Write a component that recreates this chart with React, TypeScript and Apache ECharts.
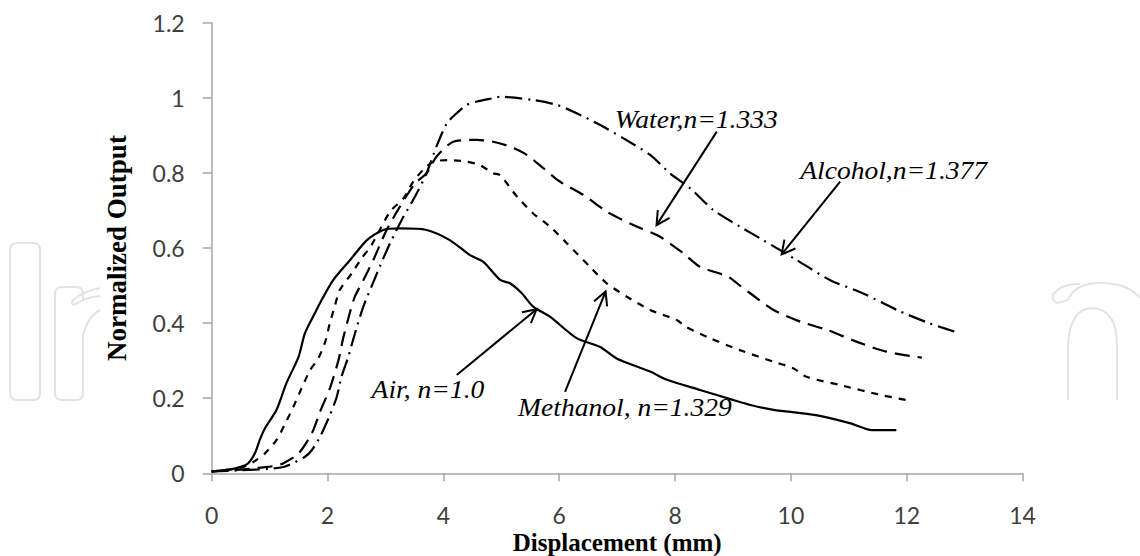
import React, { useEffect, useRef } from "react";
import * as echarts from "echarts";

// ---- Data ----
const xMin = 0;
const xMax = 14;
const xInterval = 2;
const yMin = 0;
const yMax = 1.2;
const yInterval = 0.2;

const air: [number, number][] = [
  [0, 0.005], [0.3, 0.01], [0.5, 0.017], [0.63, 0.027], [0.75, 0.055], [0.83, 0.089],
  [0.92, 0.12], [1.12, 0.169], [1.29, 0.24], [1.5, 0.31], [1.61, 0.373], [1.78, 0.426],
  [1.9, 0.462], [2.1, 0.515], [2.39, 0.568], [2.68, 0.621], [2.96, 0.648], [3.25, 0.652],
  [3.71, 0.648], [4.11, 0.621], [4.46, 0.581], [4.69, 0.563], [4.98, 0.515], [5.15, 0.506],
  [5.35, 0.48], [5.55, 0.444], [5.84, 0.417], [6.3, 0.36], [6.7, 0.337], [6.99, 0.306],
  [7.57, 0.271], [7.86, 0.249], [8.43, 0.222], [9.01, 0.195], [9.3, 0.182], [9.7, 0.169],
  [10.43, 0.155], [11.03, 0.133], [11.4, 0.115], [11.82, 0.115],
];

const methanol: [number, number][] = [
  [0, 0.005], [0.4, 0.012], [0.6, 0.02], [0.75, 0.033], [0.92, 0.053], [1.12, 0.089],
  [1.27, 0.133], [1.41, 0.177], [1.55, 0.226], [1.7, 0.275], [1.84, 0.306], [1.96, 0.35],
  [2.04, 0.4], [2.13, 0.448], [2.21, 0.488], [2.42, 0.533], [2.59, 0.573], [2.76, 0.608],
  [3.08, 0.697], [3.31, 0.732], [3.48, 0.777], [3.65, 0.808], [3.83, 0.83], [4.11, 0.834],
  [4.4, 0.83], [4.63, 0.821], [4.86, 0.799], [4.98, 0.794], [5.27, 0.737], [5.55, 0.692],
  [5.84, 0.657], [6.13, 0.613], [6.53, 0.55], [6.82, 0.506], [7.17, 0.47], [7.57, 0.435],
  [8.03, 0.408], [8.19, 0.39], [8.6, 0.36], [9.12, 0.328], [9.7, 0.297], [10.04, 0.28],
  [10.27, 0.257], [10.85, 0.235], [11.54, 0.209], [12.0, 0.195],
];

const water: [number, number][] = [
  [0, 0.005], [0.5, 0.01], [0.9, 0.016], [1.1, 0.02], [1.24, 0.027], [1.5, 0.053],
  [1.73, 0.107], [1.87, 0.164], [2.04, 0.226], [2.19, 0.302], [2.27, 0.36], [2.39, 0.43],
  [2.47, 0.47], [2.62, 0.515], [2.79, 0.568], [3.02, 0.648], [3.25, 0.71], [3.51, 0.772],
  [3.71, 0.799], [3.88, 0.843], [4.17, 0.883], [4.58, 0.888], [4.86, 0.883], [5.15, 0.87],
  [5.44, 0.848], [5.73, 0.812], [6.01, 0.777], [6.42, 0.741], [6.82, 0.697], [7.28, 0.661],
  [7.74, 0.63], [8.14, 0.586], [8.43, 0.55], [8.91, 0.524], [9.12, 0.5], [9.7, 0.435],
  [10.16, 0.404], [10.62, 0.382], [11.14, 0.35], [11.65, 0.324], [12.26, 0.308],
];

const alcohol: [number, number][] = [
  [0, 0.005], [0.5, 0.008], [1.0, 0.012], [1.27, 0.018], [1.61, 0.044], [1.73, 0.062],
  [1.87, 0.097], [2.04, 0.155], [2.16, 0.204], [2.24, 0.257], [2.36, 0.311], [2.44, 0.355],
  [2.56, 0.417], [2.65, 0.457], [2.78, 0.505], [2.9, 0.55], [3.08, 0.613], [3.31, 0.683],
  [3.51, 0.737], [3.71, 0.799], [3.88, 0.87], [4.06, 0.932], [4.23, 0.959], [4.4, 0.981],
  [4.58, 0.99], [4.86, 0.999], [4.98, 1.003], [5.55, 0.994], [5.96, 0.981], [6.3, 0.959],
  [6.7, 0.928], [7.11, 0.892], [7.57, 0.848], [7.91, 0.799], [8.26, 0.759], [8.66, 0.701],
  [9.12, 0.657], [9.52, 0.621], [10.1, 0.568], [10.67, 0.515], [11.25, 0.479], [11.83, 0.435],
  [12.4, 0.399], [12.92, 0.373],
];

// annotation labels (data coords of left/middle anchor) and arrows (from -> tip)
const labelTexts = ["Water,n=1.333", "Alcohol,n=1.377", "Air, n=1.0", "Methanol, n=1.329"];
const labelPos: [number, number][] = [[6.96, 0.944], [10.16, 0.808], [2.76, 0.2245], [5.29, 0.177]];
const arrowFrom: [number, number][] = [[8.72, 0.91], [10.85, 0.777], [4.23, 0.262], [6.1, 0.217]];
const arrowTo: [number, number][] = [[7.68, 0.661], [9.84, 0.583], [5.61, 0.437], [6.8, 0.484]];

// faint watermark outline (page decoration)
const wmPath =
  "M10,250 Q10,243 17,243 L33,243 Q40,243 40,250 L40,393 Q40,400 33,400 L17,400 Q10,400 10,393 Z " +
  "M83,335 L83,393 Q83,400 76,400 L62,400 Q55,400 55,393 L55,294 Q55,287 62,287 L76,287 Q83,287 83,294 L83,300 " +
  "M83,335 Q88,316 100,310 " +
  "M100,288 Q84,291 73,300 Q70,306 76,304 Q86,297 100,296 " +
  "M1068,400 L1068,345 Q1070,308 1093,308 Q1117,310 1117,345 L1117,400 " +
  "M1068,300 Q1075,283 1100,283 Q1128,283 1140,298 " +
  "M1068,300 L1057,303 Q1050,300 1054,293 L1062,287 Q1070,284 1080,284";

echarts.graphic.registerShape("wm", echarts.graphic.extendPath(wmPath, {}));

const axisColor = "#a6a6a6";
const tickFont = { fontFamily: "Lato", fontSize: 23, color: "#404040" };

export default function App() {
  const ref = useRef<HTMLDivElement>(null);

  useEffect(() => {
    if (!ref.current) return;
    const chart = echarts.init(ref.current, undefined, { renderer: "svg" });
    const seriesStyle = (type: any) => ({
      type: "line",
      showSymbol: false,
      symbol: "none",
      smooth: 0.25,
      lineStyle: { color: "#000", width: 2.2, type },
      z: 3,
    });
    chart.setOption({
      animation: false,
      backgroundColor: "#fff",
      grid: {
        left: 211.7,
        right: 117.4,
        top: 22.7,
        bottom: 82.7,
        containLabel: false,
        outerBoundsMode: "none",
      },
      xAxis: {
        type: "value",
        min: xMin,
        max: xMax,
        interval: xInterval,
        name: "Displacement (mm)",
        nameLocation: "middle",
        nameGap: 57,
        nameMoveOverlap: false,
        nameTextStyle: { fontFamily: "Liberation Serif", fontWeight: "bold", fontSize: 25, color: "#000" },
        axisLine: { show: true, lineStyle: { color: axisColor, width: 1.5 } },
        axisTick: { show: true, length: 8, lineStyle: { color: axisColor, width: 1.5 } },
        axisLabel: { ...tickFont, margin: 30 },
        splitLine: { show: false },
      },
      yAxis: {
        type: "value",
        min: yMin,
        max: yMax,
        interval: yInterval,
        name: "Normalized Output",
        nameLocation: "middle",
        nameRotate: 90,
        nameGap: 81,
        nameMoveOverlap: false,
        nameTextStyle: { fontFamily: "Liberation Serif", fontWeight: "bold", fontSize: 27, color: "#000" },
        axisLine: { show: true, lineStyle: { color: axisColor, width: 1.5 } },
        axisTick: { show: true, length: 9, lineStyle: { color: axisColor, width: 1.5 } },
        axisLabel: { ...tickFont, margin: 27, formatter: (v: number) => String(Math.round(v * 10) / 10) },
        splitLine: { show: false },
      },
      series: [
        { name: "Air", data: air, ...seriesStyle("solid") },
        { name: "Methanol", data: methanol, ...seriesStyle([7, 7]) },
        { name: "Water", data: water, ...seriesStyle([15, 8]) },
        { name: "Alcohol", data: alcohol, ...seriesStyle([17, 6, 2, 6]) },
      ],
    });

    const px = (p: [number, number]) => chart.convertToPixel({ gridIndex: 0 }, p) as number[];
    const elements: any[] = [
      {
        type: "wm",
        x: 0,
        y: 0,
        silent: true,
        z: 0,
        style: { fill: "none", stroke: "#e3e3e3", lineWidth: 2 },
      },
    ];
    labelTexts.forEach((t, i) => {
      const p = px(labelPos[i]);
      elements.push({
        type: "text",
        x: p[0],
        y: p[1],
        scaleX: 1.06,
        z: 10,
        style: {
          text: t,
          fontFamily: "Liberation Serif",
          fontStyle: "italic",
          fontSize: 26,
          fill: "#000",
          align: "left",
          verticalAlign: "middle",
          textAlign: "left",
          textVerticalAlign: "middle",
        },
      });
    });
    arrowFrom.forEach((f, i) => {
      const a = px(f);
      const b = px(arrowTo[i]);
      const ang = Math.atan2(b[1] - a[1], b[0] - a[0]);
      const L = 15;
      const spread = (28 * Math.PI) / 180;
      const h1 = [b[0] - L * Math.cos(ang - spread), b[1] - L * Math.sin(ang - spread)];
      const h2 = [b[0] - L * Math.cos(ang + spread), b[1] - L * Math.sin(ang + spread)];
      elements.push({
        type: "line",
        z: 10,
        shape: { x1: a[0], y1: a[1], x2: b[0], y2: b[1] },
        style: { stroke: "#000", lineWidth: 2 },
      });
      elements.push({
        type: "polyline",
        z: 10,
        shape: { points: [h1, b, h2] },
        style: { stroke: "#000", lineWidth: 2, fill: "none" },
      });
    });
    chart.setOption({ graphic: { elements } });

    return () => chart.dispose();
  }, []);

  return (
    <div
      ref={ref}
      style={{ position: "absolute", left: 0, top: 0, width: 1140, height: 556 }}
    />
  );
}
